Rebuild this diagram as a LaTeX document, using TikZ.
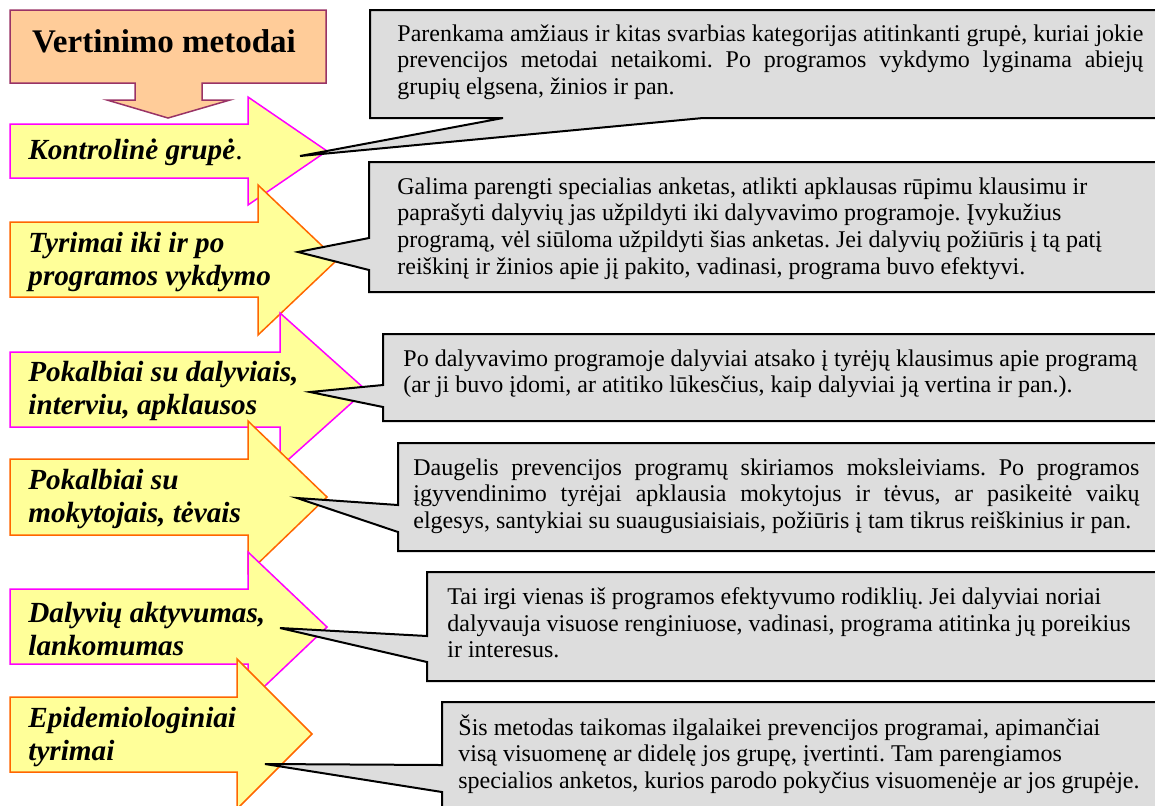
\documentclass[tikz,border=0pt]{standalone}
\usepackage{fontspec}
\setmainfont{Liberation Serif}
\frenchspacing
\definecolor{titlefill}{HTML}{FFCC99}
\definecolor{titleedge}{HTML}{993366}
\definecolor{arrowfill}{HTML}{FFFF99}
\definecolor{pinkedge}{HTML}{FF00FF}
\definecolor{orangeedge}{HTML}{FF6600}
\definecolor{notefill}{HTML}{DDDDDD}
\tikzset{
  title box/.style   = {draw=titleedge, fill=titlefill, line width=0.75pt},
  pink arrow/.style  = {draw=pinkedge, fill=arrowfill, line width=0.75pt},
  orange arrow/.style= {draw=orangeedge, fill=arrowfill, line width=0.75pt},
  note box/.style    = {draw=black, fill=notefill, line width=1pt, line join=miter},
}

\begin{document}
\begin{tikzpicture}[x=0.5pt, y=-0.5pt,
    every node/.style={inner sep=0pt},
    heading/.style = {font=\fontsize{16.5}{19}\selectfont\bfseries},
    method/.style  = {font=\fontsize{14.6}{16.5}\selectfont\bfseries\itshape,
                      anchor=west, align=left},
    note/.style    = {font=\fontsize{12}{13.4}\selectfont,
                      anchor=north west, align=left},
  ]
  \useasboundingbox (0,0) rectangle (1155,805);
  \clip (0,0) rectangle (1155,805);

  % =======================================================================
  %  Title with its down arrow
  % =======================================================================
  \draw[title box] (10,10) -- (326,10) -- (326,83) -- (202,83) -- (202,100)
        -- (230,100) -- (168,118) -- (107,100) -- (135,100) -- (135,83)
        -- (10,83) -- cycle;
  \node[heading] (title) at (164,41) {Vertinimo metodai};

  % =======================================================================
  %  Method arrows (each one drawn over the one above)
  % =======================================================================
  \draw[pink arrow] (10,124) -- (248,124) -- (248,97) -- (327,151)
        -- (248,205) -- (248,178) -- (10,178) -- cycle;
  \node[method] (kontrol) at (28,152) {Kontrolinė grupė{\normalfont.}};

  \draw[orange arrow] (10,222) -- (258,222) -- (258,185) -- (337,260)
        -- (258,335) -- (258,297) -- (10,297) -- cycle;
  \node[method] (tyrimai) at (28,262) {Tyrimai iki ir po\\programos vykdymo};

  \draw[pink arrow] (10,352) -- (280,352) -- (280,313) -- (366,390)
        -- (280,467) -- (280,427) -- (10,427) -- cycle;
  \node[method] (dalyviai) at (28,391) {Pokalbiai su dalyviais,\\interviu, apklausos};

  \draw[orange arrow] (10,459) -- (248,459) -- (248,421) -- (327,497)
        -- (248,573) -- (248,535) -- (10,535) -- cycle;
  \node[method] (tevai) at (28,499) {Pokalbiai su\\mokytojais, tėvais};

  \draw[pink arrow] (10,589) -- (248,589) -- (248,552) -- (327,627)
        -- (248,702) -- (248,664) -- (10,664) -- cycle;
  \node[method] (aktyvumas) at (28,629) {Dalyvių aktyvumas,\\lankomumas};

  \draw[orange arrow] (10,697) -- (237,697) -- (237,659) -- (312,734)
        -- (237,809) -- (237,772) -- (10,772) -- cycle;
  \node[method] (epidem) at (28,737) {Epidemiologiniai\\tyrimai};

  % =======================================================================
  %  Explanation callouts
  % =======================================================================
  \draw[note box] (370,10) -- (1165,10) -- (1165,118) -- (703,118)
        -- (300,156) -- (503,118) -- (370,118) -- cycle;
  \node[note] (kontrolnote) at (397,24)
        {\makebox[373pt][s]{Parenkama amžiaus ir kitas svarbias kategorijas atitinkanti grupė, kuriai jokie}\\
         \makebox[373pt][s]{prevencijos metodai netaikomi. Po programos vykdymo lyginama abiejų}\\
         grupių elgsena, žinios ir pan.};

  \draw[note box] (369,162) -- (1165,162) -- (1165,292) -- (369,292)
        -- (369,270) -- (298,252) -- (369,238) -- cycle;
  \node[note] (tyrimainote) at (397,177)
        {Galima parengti specialias anketas, atlikti apklausas rūpimu klausimu ir\\
         paprašyti dalyvių jas užpildyti iki dalyvavimo programoje. Įvykužius\\
         programą, vėl siūloma užpildyti šias anketas. Jei dalyvių požiūris į tą patį\\
         reiškinį ir žinios apie jį pakito, vadinasi, programa buvo efektyvi.};

  \draw[note box] (383,334) -- (1165,334) -- (1165,421) -- (383,421)
        -- (383,407) -- (310,392) -- (383,385) -- cycle;
  \node[note] (dalyviainote) at (403,349)
        {Po dalyvavimo programoje dalyviai atsako į tyrėjų klausimus apie programą\\
         (ar ji buvo įdomi, ar atitiko lūkesčius, kaip dalyviai ją vertina ir pan.).};

  \draw[note box] (398,443) -- (1165,443) -- (1165,551) -- (398,551)
        -- (398,532) -- (297,498) -- (398,505) -- cycle;
  \node[note] (tevainote) at (413,458)
        {\makebox[363pt][s]{Daugelis prevencijos programų skiriamos moksleiviams. Po programos}\\
         \makebox[363pt][s]{įgyvendinimo tyrėjai apklausia mokytojus ir tėvus, ar pasikeitė vaikų}\\
         elgesys, santykiai su suaugusiaisiais, požiūris į tam tikrus reiškinius ir pan.};

  \draw[note box] (427,572) -- (1165,572) -- (1165,681) -- (427,681)
        -- (427,662) -- (280,628) -- (427,636) -- cycle;
  \node[note] (aktyvumasnote) at (447,587)
        {Tai irgi vienas iš programos efektyvumo rodiklių. Jei dalyviai noriai\\
         dalyvauja visuose renginiuose, vadinasi, programa atitinka jų poreikius\\
         ir interesus.};

  \draw[note box] (442,702) -- (1165,702) -- (1165,815) -- (442,815)
        -- (442,792) -- (265,764) -- (442,765) -- cycle;
  \node[note] (epidemnote) at (458,714)
        {Šis metodas taikomas ilgalaikei prevencijos programai, apimančiai\\
         visą visuomenę ar didelę jos grupę, įvertinti. Tam parengiamos\\
         specialios anketos, kurios parodo pokyčius visuomenėje ar jos grupėje.};
\end{tikzpicture}
\end{document}
